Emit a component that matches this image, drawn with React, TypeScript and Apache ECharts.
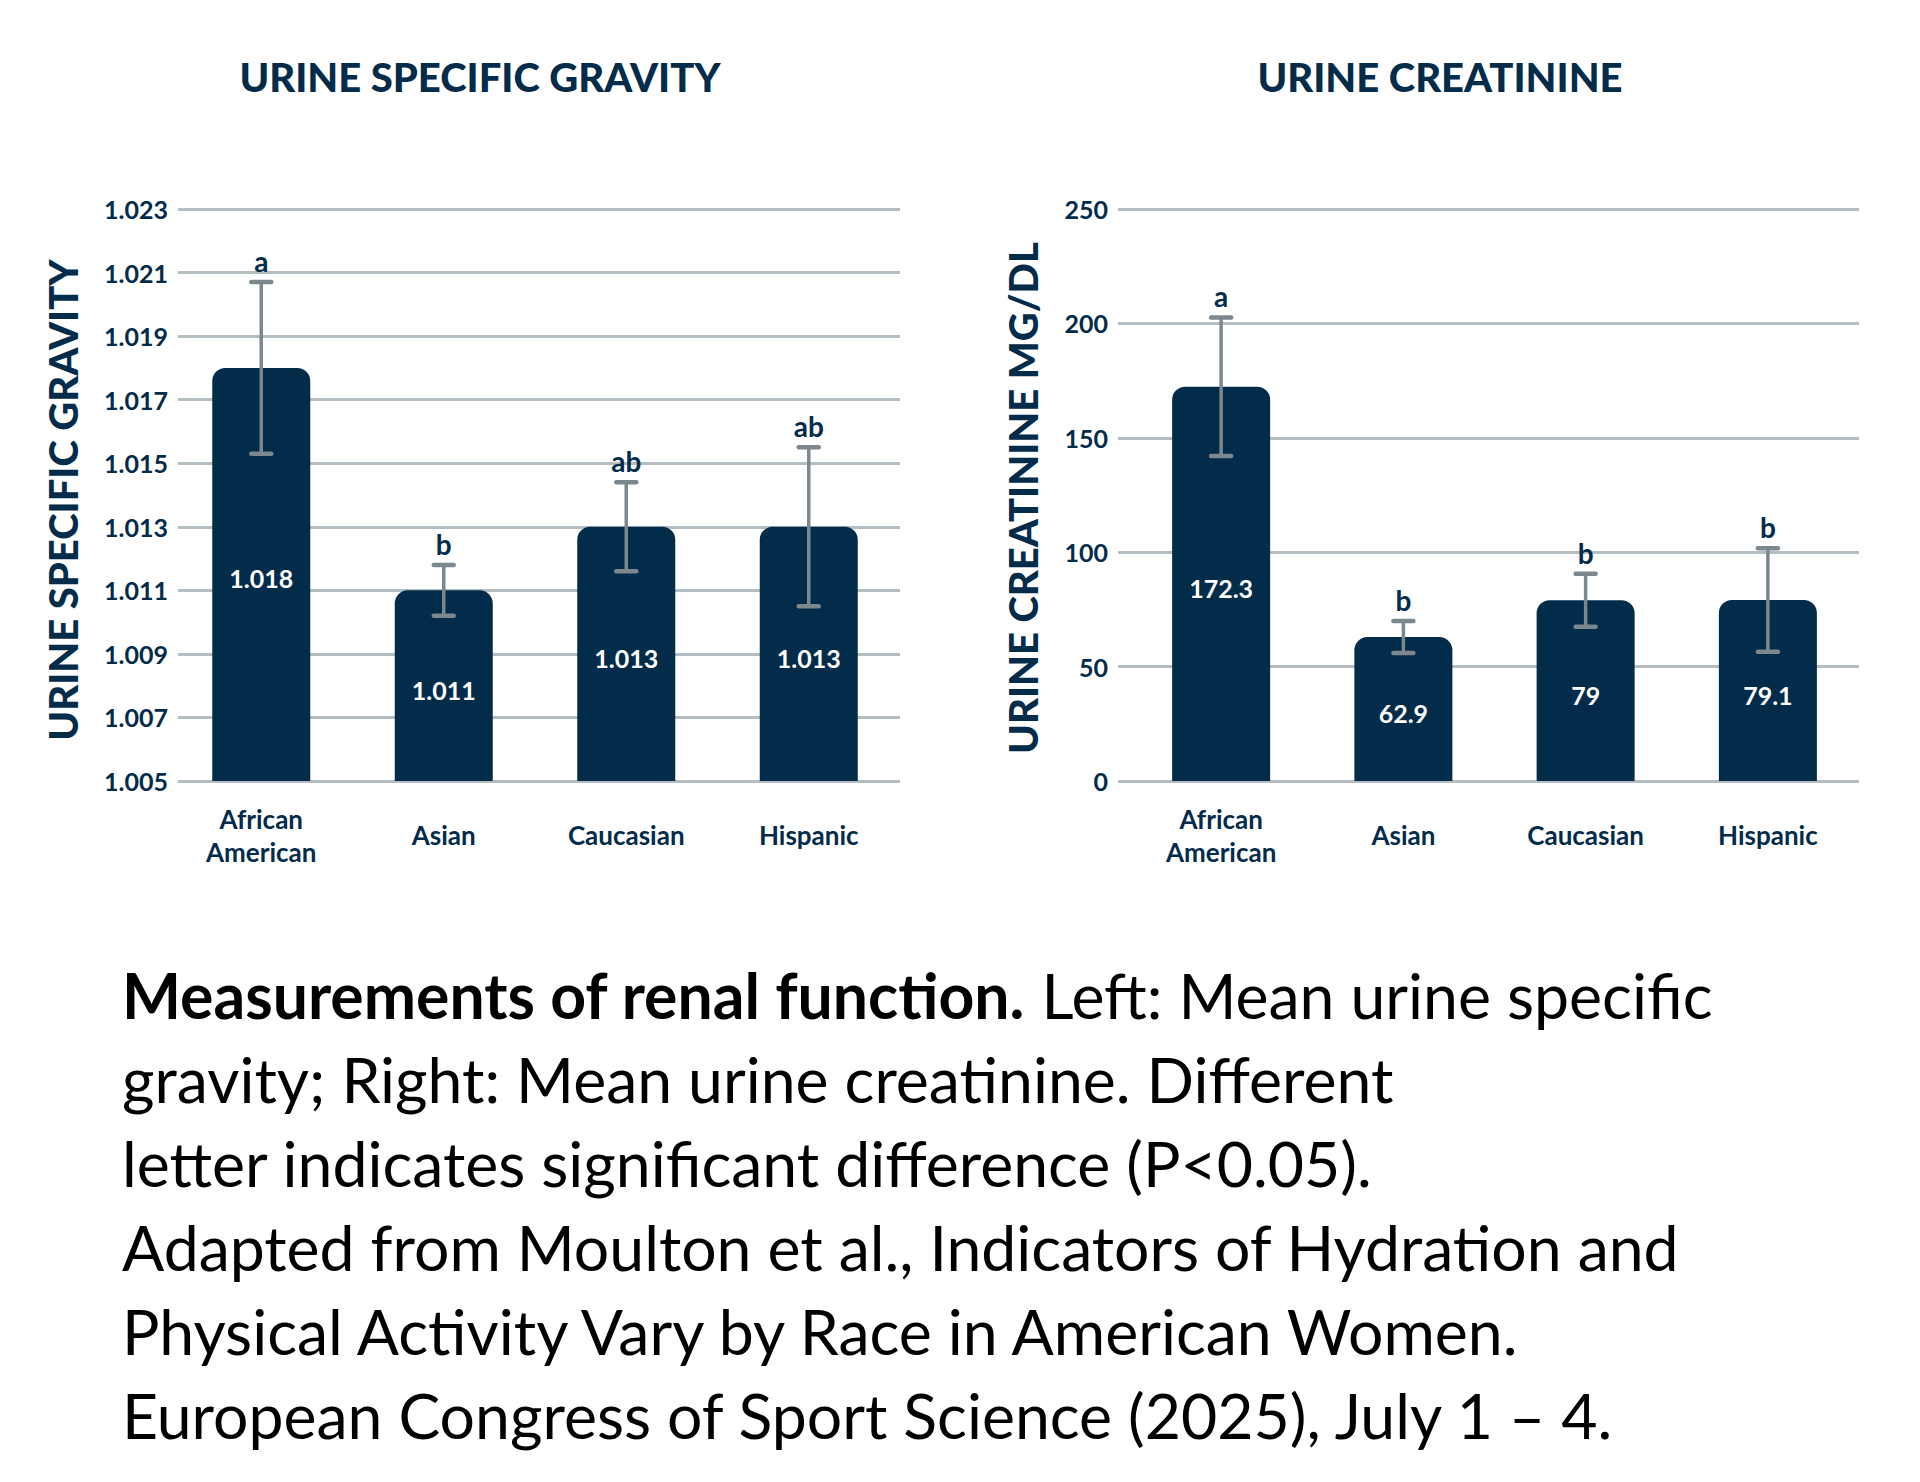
import React, { useEffect, useRef } from "react";
import * as echarts from "echarts";

const categories = ["African\nAmerican", "Asian", "Caucasian", "Hispanic"];

const gravityMean = [1.018, 1.011, 1.013, 1.013];
const gravityErr = [0.0027, 0.0008, 0.0014, 0.0025];
const gravityLetters = ["a", "b", "ab", "ab"];
const gravityMin = 1.005;
const gravityMax = 1.023;
const gravityStep = 0.002;

const creatMean = [172.3, 62.9, 79, 79.1];
const creatErr = [30.3, 7, 11.6, 22.6];
const creatLetters = ["a", "b", "b", "b"];
const creatMin = 0;
const creatMax = 250;
const creatStep = 50;

const leftTitle = "URINE SPECIFIC GRAVITY";
const rightTitle = "URINE CREATININE";
const leftAxisName = "URINE SPECIFIC GRAVITY";
const rightAxisName = "URINE CREATININE MG/DL";

const captionLines = [
  "{b|Measurements of renal function.} Left: Mean urine specific",
  "gravity; Right: Mean urine creatinine. Different",
  "letter indicates significant difference (P<0.05).",
  "Adapted from Moulton et al., Indicators of Hydration and",
  "Physical Activity Vary by Race in American Women.",
  "European Congress of Sport Science (2025), July 1 – 4.",
];

const NAVY = "#032b4a";
const GRID = "#b4bdc2";
const ERR = "#7c878e";
const FONT = "Lato";

// gravity axis in thousandths above the minimum, so ticks start at the minimum
const toG = (v: number) => Math.round((v - gravityMin) * 1e6) / 1e3;
const fromG = (v: number) => (gravityMin + v / 1000).toFixed(3);

function makeErrSeries(
  xAxisIndex: number,
  yAxisIndex: number,
  data: number[][],
  letters: string[]
) {
  return {
    type: "custom",
    xAxisIndex,
    yAxisIndex,
    z: 5,
    data,
    encode: { x: 0, y: [1, 2] },
    renderItem: (params: any, api: any) => {
      const x = api.value(0);
      const lo = api.value(1);
      const hi = api.value(2);
      const top = api.coord([x, hi]);
      const bot = api.coord([x, lo]);
      const half = 10;
      return {
        type: "group",
        children: [
          {
            type: "line",
            shape: { x1: top[0], y1: top[1], x2: bot[0], y2: bot[1] },
            style: { stroke: ERR, lineWidth: 3.5 },
          },
          {
            type: "line",
            shape: { x1: top[0] - half, y1: top[1], x2: top[0] + half, y2: top[1] },
            style: { stroke: ERR, lineWidth: 4.5, lineCap: "round" },
          },
          {
            type: "line",
            shape: { x1: bot[0] - half, y1: bot[1], x2: bot[0] + half, y2: bot[1] },
            style: { stroke: ERR, lineWidth: 4.5, lineCap: "round" },
          },
          {
            type: "text",
            x: top[0],
            y: top[1] - 21,
            style: {
              text: letters[params.dataIndex],
              fill: NAVY,
              fontFamily: FONT,
              fontWeight: "bold",
              fontSize: 28,
              align: "center",
              verticalAlign: "middle",
            },
          },
        ],
      };
    },
  };
}

export default function App() {
  const ref = useRef<HTMLDivElement>(null);

  useEffect(() => {
    if (!ref.current) return;
    const chart = echarts.init(ref.current, undefined, { renderer: "svg" });

    const top = 209;
    const bottom = 1482 - 781;

    const yLabel = {
      color: NAVY,
      fontFamily: FONT,
      fontWeight: "bold",
      fontSize: 25,
      margin: 10,
    };
    const xLabel = {
      color: NAVY,
      fontFamily: FONT,
      fontWeight: "bold",
      fontSize: 26,
      lineHeight: 33,
      margin: 54,
      verticalAlign: "middle",
      interval: 0,
    };
    const split = { show: true, lineStyle: { color: GRID, width: 3 } };

    const barLabel = {
      show: true,
      position: "inside",
      offset: [0, 4],
      color: "#ffffff",
      fontFamily: FONT,
      fontWeight: "bold",
      fontSize: 25,
    };

    const gravityErrData = gravityMean.map((m, i) => [
      i,
      toG(m - gravityErr[i]),
      toG(m + gravityErr[i]),
    ]);
    const creatErrData = creatMean.map((m, i) => [i, m - creatErr[i], m + creatErr[i]]);

    const option: any = {
      animation: false,
      backgroundColor: "#ffffff",
      grid: [
        { left: 178, right: 1920 - 900, top, bottom },
        { left: 170, right: 1920 - 900, top, bottom },
        { left: 1118, right: 1920 - 1859, top, bottom },
        { left: 1130, right: 1920 - 1859, top, bottom },
      ],
      xAxis: [
        { type: "value", gridIndex: 0, show: false },
        {
          type: "category",
          gridIndex: 1,
          data: categories,
          axisLine: { show: false },
          axisTick: { show: false },
          axisLabel: xLabel,
        },
        { type: "value", gridIndex: 2, show: false },
        {
          type: "category",
          gridIndex: 3,
          data: categories,
          axisLine: { show: false },
          axisTick: { show: false },
          axisLabel: xLabel,
        },
      ],
      yAxis: [
        {
          type: "value",
          gridIndex: 0,
          min: 0,
          max: toG(gravityMax),
          interval: gravityStep * 1000,
          axisLine: { show: false },
          axisTick: { show: false },
          splitLine: split,
          axisLabel: { ...yLabel, formatter: (v: number) => fromG(v) },
        },
        {
          type: "value",
          gridIndex: 1,
          min: 0,
          max: toG(gravityMax),
          show: false,
          splitLine: { show: false },
        },
        {
          type: "value",
          gridIndex: 2,
          min: creatMin,
          max: creatMax,
          interval: creatStep,
          axisLine: { show: false },
          axisTick: { show: false },
          splitLine: split,
          axisLabel: yLabel,
        },
        {
          type: "value",
          gridIndex: 3,
          min: creatMin,
          max: creatMax,
          show: false,
          splitLine: { show: false },
        },
      ],
      series: [
        {
          type: "bar",
          xAxisIndex: 1,
          yAxisIndex: 1,
          data: gravityMean.map((v) => toG(v)),
          barWidth: 98,
          itemStyle: { color: NAVY, borderRadius: [13, 13, 0, 0] },
          label: {
            ...barLabel,
            formatter: (p: any) => String(gravityMean[p.dataIndex]),
          },
          z: 3,
        },
        makeErrSeries(1, 1, gravityErrData, gravityLetters),
        {
          type: "bar",
          xAxisIndex: 3,
          yAxisIndex: 3,
          data: creatMean,
          barWidth: 98,
          itemStyle: { color: NAVY, borderRadius: [13, 13, 0, 0] },
          label: barLabel,
          z: 3,
        },
        makeErrSeries(3, 3, creatErrData, creatLetters),
      ],
      graphic: [
        {
          type: "text",
          x: 480,
          y: 77,
          style: {
            text: leftTitle,
            fill: NAVY,
            fontFamily: FONT,
            fontWeight: 900,
            fontSize: 40,
            align: "center",
            verticalAlign: "middle",
          },
        },
        {
          type: "text",
          x: 1440,
          y: 77,
          style: {
            text: rightTitle,
            fill: NAVY,
            fontFamily: FONT,
            fontWeight: 900,
            fontSize: 40,
            align: "center",
            verticalAlign: "middle",
          },
        },
        {
          type: "text",
          x: 63,
          y: 500,
          rotation: Math.PI / 2,
          style: {
            text: leftAxisName,
            fill: NAVY,
            fontFamily: FONT,
            fontWeight: 900,
            fontSize: 40,
            align: "center",
            verticalAlign: "middle",
          },
        },
        {
          type: "text",
          x: 1023,
          y: 498,
          rotation: Math.PI / 2,
          style: {
            text: rightAxisName,
            fill: NAVY,
            fontFamily: FONT,
            fontWeight: 900,
            fontSize: 40,
            align: "center",
            verticalAlign: "middle",
          },
        },
        {
          type: "text",
          x: 122,
          y: 952,
          style: {
            text: captionLines.join("\n"),
            fill: "#000000",
            fontFamily: FONT,
            fontSize: 62.5,
            lineHeight: 84,
            align: "left",
            verticalAlign: "top",
            rich: {
              b: {
                fontFamily: FONT,
                fontWeight: "bold",
                fontSize: 62.5,
                lineHeight: 84,
                fill: "#000000",
              },
            },
          },
        },
      ],
    };

    chart.setOption(option);
    return () => chart.dispose();
  }, []);

  return (
    <div
      ref={ref}
      style={{
        position: "absolute",
        left: 0,
        top: 0,
        width: 1920,
        height: 1482,
        background: "#ffffff",
      }}
    />
  );
}
